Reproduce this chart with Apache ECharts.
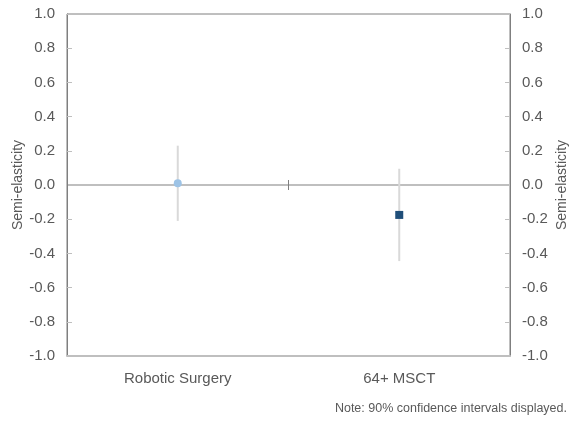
<!DOCTYPE html>
<html>
<head>
<meta charset="utf-8">
<script src="https://cdn.jsdelivr.net/npm/echarts@6/dist/echarts.min.js"></script>
<style>
  html, body { margin: 0; padding: 0; background: #fff; }
  #chart { width: 571px; height: 423px; }
</style>
</head>
<body>
<div id="chart"></div>
<script>
// Point estimates with 90% confidence intervals
const categories = ['Robotic Surgery', '64+ MSCT'];
const estimates = [0.01, -0.175];
const lowerBounds = [-0.21, -0.445];
const upperBounds = [0.23, 0.095];
const markerShapes = ['circle', 'rect'];
const markerColors = ['#9DC3E6', '#1F4E79'];

const FONT = '"Liberation Sans", Arial, sans-serif';
const TEXT = '#595959';

const chart = echarts.init(document.getElementById('chart'), null, { renderer: 'canvas' });

const valueAxis = (pos, gap) => ({
  type: 'value',
  position: pos,
  min: -1,
  max: 1,
  interval: 0.2,
  name: 'Semi-elasticity',
  nameLocation: 'middle',
  nameGap: gap,
  nameRotate: 90,
  nameMoveOverlap: false,
  nameTextStyle: { color: TEXT, fontFamily: FONT, fontSize: 14 },
  axisLine: { show: true, lineStyle: { color: '#7f7f7f', width: 1 } },
  axisTick: { show: true, inside: true, length: 5, lineStyle: { color: '#bfbfbf', width: 1 } },
  axisLabel: {
    color: TEXT, fontFamily: FONT, fontSize: 15, margin: 12,
    formatter: (v) => v.toFixed(1)
  },
  splitLine: { show: false }
});

chart.setOption({
  animation: false,
  grid: {
    left: 67, right: 61, top: 14, bottom: 67,
    outerBoundsMode: 'none',
    containLabel: false,
    show: true, borderColor: '#7f7f7f', borderWidth: 1
  },
  xAxis: [
    {
      // bottom axis carrying the category labels
      type: 'category',
      data: categories,
      position: 'bottom',
      axisLine: { onZero: false, lineStyle: { color: '#bfbfbf', width: 2 } },
      axisTick: { show: false },
      axisLabel: { color: TEXT, fontFamily: FONT, fontSize: 15, margin: 15 }
    },
    {
      // zero line with the tick between categories (upper half)
      type: 'category',
      data: categories,
      position: 'bottom',
      axisLine: { onZero: true, lineStyle: { color: '#bfbfbf', width: 2 } },
      axisTick: { show: true, inside: true, length: 5, lineStyle: { color: '#7f7f7f', width: 1 } },
      axisLabel: { show: false }
    },
    {
      // lower half of the tick on the zero line
      type: 'category',
      data: categories,
      position: 'bottom',
      axisLine: { onZero: true, lineStyle: { color: '#bfbfbf', width: 2 } },
      axisTick: { show: true, inside: false, length: 5, lineStyle: { color: '#7f7f7f', width: 1 } },
      axisLabel: { show: false }
    }
  ],
  yAxis: [valueAxis('left', 42), valueAxis('right', 45)],
  graphic: [{
    type: 'text',
    right: 4,
    top: 402,
    style: {
      text: 'Note: 90% confidence intervals displayed.',
      fill: TEXT,
      font: '12.5px ' + FONT
    }
  }],
  series: [
    {
      type: 'custom',
      xAxisIndex: 0,
      yAxisIndex: 0,
      data: categories.map((c, i) => [i, lowerBounds[i], upperBounds[i]]),
      renderItem: (params, api) => {
        const lo = api.coord([api.value(0), api.value(1)]);
        const hi = api.coord([api.value(0), api.value(2)]);
        return {
          type: 'line',
          shape: { x1: lo[0], y1: lo[1], x2: hi[0], y2: hi[1] },
          style: { stroke: '#d9d9d9', lineWidth: 2 }
        };
      },
      z: 3
    },
    {
      type: 'scatter',
      xAxisIndex: 0,
      yAxisIndex: 0,
      data: categories.map((c, i) => ({
        value: [i, estimates[i]],
        symbol: markerShapes[i],
        symbolSize: 8,
        itemStyle: { color: markerColors[i], opacity: 1 }
      })),
      z: 5
    }
  ]
});
</script>
</body>
</html>
